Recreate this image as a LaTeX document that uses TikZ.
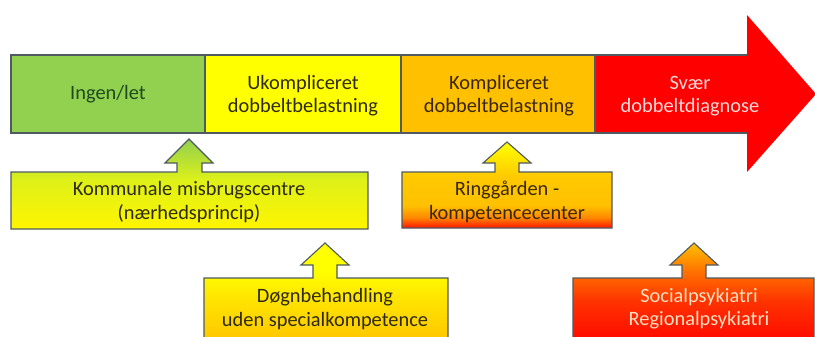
\documentclass[tikz,border=0pt]{standalone}
\usepackage{fontspec}
\setmainfont{Carlito}
\definecolor{cgreen}{HTML}{92D050}
\definecolor{cyellow}{HTML}{FFFF00}
\definecolor{corange}{HTML}{FFC000}
\definecolor{cred}{HTML}{FF0000}
\definecolor{edge}{HTML}{4F5A62}
\definecolor{tgreen}{HTML}{1E4A1E}
\definecolor{tdark}{HTML}{2E2A10}
\definecolor{tbrown}{HTML}{3A2608}
\pgfdeclareverticalshading{shA}{100bp}{color(0bp)=(cyellow!92!orange); color(25bp)=(cyellow!92!orange); color(52bp)=(cyellow!70!cgreen); color(75bp)=(cgreen); color(100bp)=(cgreen)}
\pgfdeclareverticalshading{shB}{100bp}{color(0bp)=(cred); color(25bp)=(cred!90!corange); color(31bp)=(corange!70!red); color(38bp)=(corange); color(55bp)=(corange!85!yellow); color(75bp)=(cyellow); color(100bp)=(cyellow)}
\pgfdeclareverticalshading{shC}{100bp}{color(0bp)=(corange); color(25bp)=(corange); color(50bp)=(cyellow!80!orange); color(62bp)=(cyellow); color(75bp)=(cyellow); color(100bp)=(cyellow)}
\pgfdeclareverticalshading{shD}{100bp}{color(0bp)=(cred); color(25bp)=(cred); color(48bp)=(cred!60!orange); color(62bp)=(orange!90!red); color(75bp)=(corange); color(100bp)=(corange)}
\tikzset{
  barseg/.style={draw=edge, line width=0.8pt},
  callout/.style={draw=edge, line width=0.8pt},
  lbl/.style={align=center, font=\fontsize{14.5}{16.5}\selectfont, inner sep=0pt}
}
\begin{document}
\begin{tikzpicture}[x=0.025cm, y=-0.025cm]
\clip (0,0) rectangle (815,336);
\fill[white] (0,0) rectangle (815,336);
% top bar
\draw[barseg, fill=cgreen] (11,55) rectangle (205,133);
\draw[barseg, fill=cyellow] (205,55) rectangle (401,133);
\draw[barseg, fill=corange] (401,55) rectangle (595,133);
\draw[barseg, fill=cred] (595,55) rectangle (748,133);
\fill[cred] (747,15) -- (816,94) -- (747,172) -- cycle;
\node[lbl, text=tgreen] (t1) at (108,94) {Ingen/let};
\node[lbl, text=tdark] (t2) at (303,96) {Ukompliceret\\dobbeltbelastning};
\node[lbl, text=tbrown] (t3) at (499,96) {Kompliceret\\dobbeltbelastning};
\node[lbl, text=red!15!white] (t4) at (690,96) {Svær\\dobbeltdiagnose};
% callouts
\draw[callout, shading=shA] (11,172) -- (177,172) -- (177,163) -- (165,163) -- (189,139) -- (213,163) -- (202,163) -- (202,172) -- (368,172) -- (368,229) -- (11,229) -- cycle;
\node[lbl, text=tdark] (b1) at (189,202) {Kommunale misbrugscentre\\(nærhedsprincip)};
\draw[callout, shading=shB] (402,172) -- (495,172) -- (495,163) -- (483,163) -- (507,142) -- (531,163) -- (519,163) -- (519,172) -- (612,172) -- (612,228) -- (402,228) -- cycle;
\node[lbl, text=tbrown] (b2) at (507,202) {Ringgården -\\kompetencecenter};
\draw[callout, shading=shC] (204,278) -- (313,278) -- (313,265) -- (301,265) -- (325,243) -- (349,265) -- (337,265) -- (337,278) -- (448,278) -- (448,350) -- (204,350) -- cycle;
\node[lbl, text=tdark] (b3) at (325,309) {Døgnbehandling\\uden specialkompetence};
\draw[callout, shading=shD] (573,278) -- (682,278) -- (682,265) -- (670,265) -- (694,243) -- (718,265) -- (706,265) -- (706,278) -- (814,278) -- (814,350) -- (573,350) -- cycle;
\node[lbl, text=orange!25!white] (b4) at (699,309) {Socialpsykiatri\\Regionalpsykiatri};
\end{tikzpicture}
\end{document}
